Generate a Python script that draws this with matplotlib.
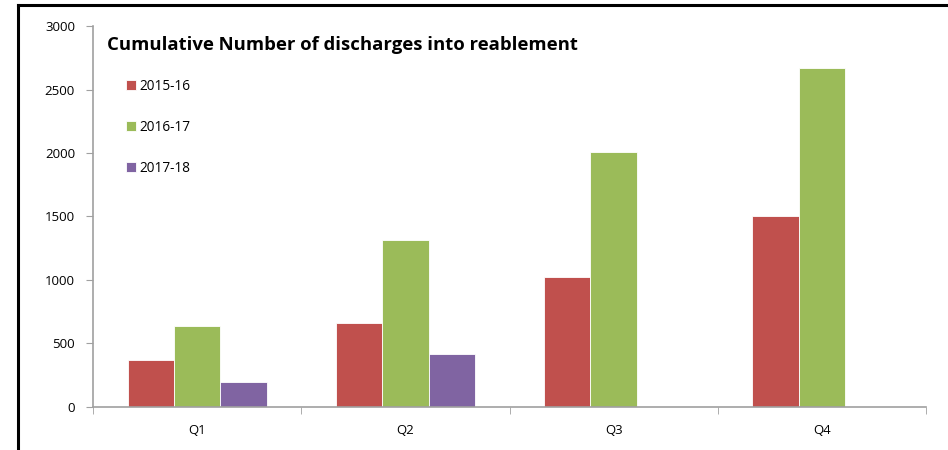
import matplotlib.pyplot as plt
import numpy as np
from matplotlib.lines import Line2D

quarters = ['Q1', 'Q2', 'Q3', 'Q4']
years = ['2015-16', '2016-17', '2017-18']
vals_1516 = [370, 661, 1024, 1504]
vals_1617 = [638, 1315, 2008, 2669]
vals_1718 = [197, 417, np.nan, np.nan]
colors = ['#C0504D', '#9BBB59', '#8064A2']

plt.rcParams['font.family'] = ['Open Sans', 'DejaVu Sans']

fig = plt.figure(figsize=(9.48, 4.5), dpi=100)
ax = fig.add_axes([0.0981, 0.0956, 0.8787, 0.8466])

x = np.arange(len(quarters))
w = 1 / 4.5
for i, (vals, lab) in enumerate(zip([vals_1516, vals_1617, vals_1718], years)):
    ax.bar(x + (i - 1) * w, vals, w, color=colors[i], label=lab,
           edgecolor='white', linewidth=0.6)

ax.set_xlim(-0.5, 3.5)
ax.set_ylim(0, 3000)
ax.set_yticks(range(0, 3001, 500))
ax.set_xticks(x)
ax.set_xticklabels(quarters)
ax.set_xticks(np.arange(-0.5, 3.6, 1), minor=True)
ax.tick_params(axis='x', which='major', length=0, pad=12, labelsize=9.5)
ax.tick_params(axis='x', which='minor', length=5, color='#a0a0a0', direction='out')
ax.tick_params(axis='y', length=5, color='#a0a0a0', labelsize=9.5, pad=8)
for s in ['top', 'right']:
    ax.spines[s].set_visible(False)
for s in ['left', 'bottom']:
    ax.spines[s].set_color('#a0a0a0')
    ax.spines[s].set_linewidth(1.2)

ax.text(0.017, 0.95, 'Cumulative Number of discharges into reablement',
        transform=ax.transAxes, fontsize=13.3, fontweight='bold', va='center')

leg = ax.legend(loc='upper left', bbox_to_anchor=(0.025, 0.893), frameon=False,
                handlelength=0.7, handleheight=0.7, handletextpad=0.3,
                labelspacing=1.9, fontsize=9.8)

# frame edges of the original chart box
fig.add_artist(Line2D([18 / 948, 18 / 948], [0, 1 - 5 / 450], color='black', lw=2.2,
                      transform=fig.transFigure))
fig.add_artist(Line2D([18 / 948, 1], [1 - 5 / 450, 1 - 5 / 450], color='black', lw=2.2,
                      transform=fig.transFigure))

fig.savefig('out.png', dpi=100)
